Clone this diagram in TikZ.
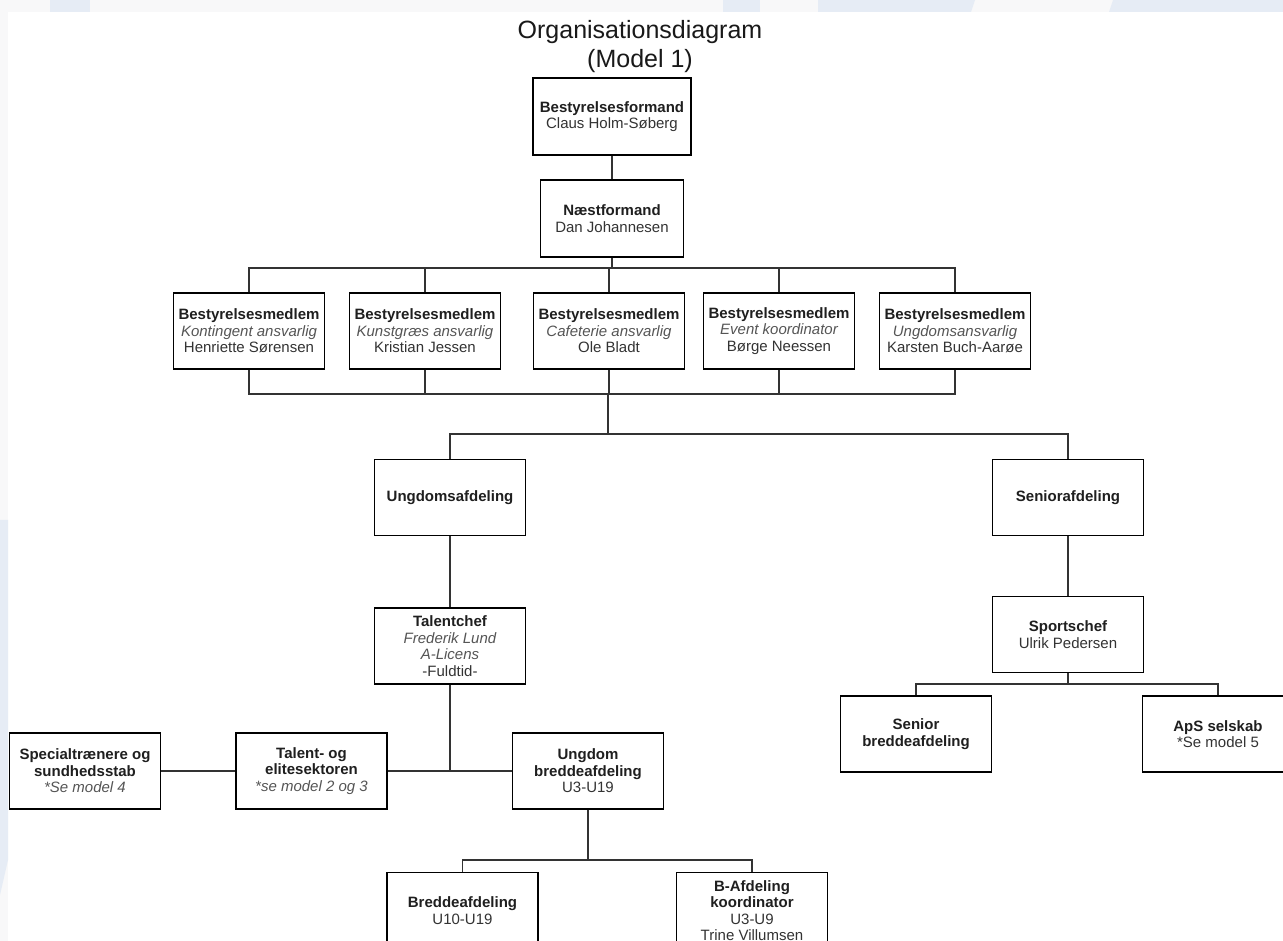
\documentclass[tikz,border=0pt]{standalone}
\usepackage{fontspec}
\setmainfont{Liberation Sans}
\definecolor{wmblue}{HTML}{E6ECF5}
\definecolor{wmgrey}{HTML}{F8F8F9}
\definecolor{linegrey}{HTML}{333333}
\definecolor{rolegrey}{HTML}{1F1F1F}
\definecolor{notegrey}{HTML}{555555}
\newcommand{\role}[1]{{\color{rolegrey}\bfseries #1}}
\newcommand{\note}[1]{{\color{notegrey}\itshape #1}}

\begin{document}
\begin{tikzpicture}[x=0.75pt, y=-0.75pt]
    \tikzstyle{orgbox} = [rectangle, draw=black, line width=1pt, fill=white, align=center, inner sep=0pt, minimum width=113.25pt, minimum height=57pt, font=\fontsize{11.25}{12.4}\selectfont, text=linegrey]
    \tikzstyle{link} = [draw=linegrey, line width=1pt]
    \useasboundingbox (0,0) rectangle (1283,941);
    \clip (0,0) rectangle (1283,941);
    % watermark in the background
    \fill[white] (0,0) rectangle (1283,941);
    \fill[wmgrey] (0,0) rectangle (1283,12);
    \fill[wmgrey] (0,12) rectangle (8,941);
    \fill[wmblue] (50,0) rectangle (90,12);
    \fill[wmblue] (723,0) rectangle (760,12);
    \fill[wmblue] (818,0) -- (975,0) -- (971,12) -- (818,12) -- cycle;
    \fill[wmblue] (1113,0) -- (1283,0) -- (1283,12) -- (1109,12) -- cycle;
    \fill[wmblue] (0,520) -- (8,520) -- (8,860) -- (0,895) -- cycle;
    % title
    \node[font=\fontsize{18.75}{21.75}\selectfont, align=center, text=black!90] (title) at (640,47) {Organisationsdiagram\\(Model 1)};
    % board
    \node[orgbox, minimum width=118.5pt, minimum height=57.75pt] (formand) at (612,116.5) {\role{Bestyrelsesformand}\\Claus Holm-Søberg};
    \node[orgbox, minimum width=107.25pt, minimum height=57.75pt] (naest) at (612,218.5) {\role{Næstformand}\\Dan Johannesen};
    \node[orgbox] (kontingent) at (249,331) {\role{Bestyrelsesmedlem}\\\note{Kontingent ansvarlig}\\Henriette Sørensen};
    \node[orgbox] (kunstgraes) at (425,331) {\role{Bestyrelsesmedlem}\\\note{Kunstgræs ansvarlig}\\Kristian Jessen};
    \node[orgbox] (cafeteria) at (609,331) {\role{Bestyrelsesmedlem}\\\note{Cafeterie ansvarlig}\\Ole Bladt};
    \node[orgbox] (event) at (779,331) {\role{Bestyrelsesmedlem}\\\note{Event koordinator}\\Børge Neessen};
    \node[orgbox] (ungdomsansv) at (955,331) {\role{Bestyrelsesmedlem}\\\note{Ungdomsansvarlig}\\Karsten Buch-Aarøe};
    % departments
    \node[orgbox] (ungdomsafd) at (450,497.5) {\role{Ungdomsafdeling}};
    \node[orgbox] (seniorafd) at (1068,497.5) {\role{Seniorafdeling}};
    \node[orgbox] (talentchef) at (450,646) {\role{Talentchef}\\\note{Frederik Lund}\\\note{A-Licens}\\-Fuldtid-};
    \node[orgbox] (sportschef) at (1068,634.5) {\role{Sportschef}\\Ulrik Pedersen};
    \node[orgbox] (special) at (85,771) {\role{Specialtrænere og}\\\role{sundhedsstab}\\\note{*Se model 4}};
    \node[orgbox] (talent) at (311.5,771) {\role{Talent- og}\\\role{elitesektoren}\\\note{*se model 2 og 3}};
    \node[orgbox] (ubredde) at (588,771) {\role{Ungdom}\\\role{breddeafdeling}\\U3-U19};
    \node[orgbox] (bredde) at (462.5,910.5) {\role{Breddeafdeling}\\U10-U19};
    \node[orgbox] (bafd) at (752,910.5) {\role{B-Afdeling}\\\role{koordinator}\\U3-U9\\Trine Villumsen};
    \node[orgbox] (seniorbredde) at (916,734) {\role{Senior}\\\role{breddeafdeling}};
    \node[orgbox] (aps) at (1218,734) {\role{ApS selskab}\\*Se model 5};
    % junctions
    \coordinate (bus top) at (612,268);
    \coordinate (bus board) at (608,394);
    \coordinate (bus dept) at (608,434);
    \coordinate (talent junction) at (450,771);
    \coordinate (bus bredde) at (588,860);
    \coordinate (bus senior) at (1068,684);
    % connectors
    \draw[link] (formand) -- (naest);
    \draw[link] (naest) -- (bus top);
    \foreach \m in {kontingent,kunstgraes,cafeteria,event,ungdomsansv} {
        \draw[link] (\m.north) |- (bus top);
        \draw[link] (\m.south) |- (bus board);
    }
    \draw[link] (bus board) -- (bus dept);
    \draw[link] (ungdomsafd.north) |- (bus dept);
    \draw[link] (seniorafd.north) |- (bus dept);
    \draw[link] (ungdomsafd) -- (talentchef);
    \draw[link] (talentchef) -- (talent junction);
    \draw[link] (special) -- (talent);
    \draw[link] (talent) -- (ubredde);
    \draw[link] (ubredde) -- (bus bredde);
    \draw[link] (bredde.north) |- (bus bredde);
    \draw[link] (bafd.north) |- (bus bredde);
    \draw[link] (seniorafd) -- (sportschef);
    \draw[link] (sportschef) -- (bus senior);
    \draw[link] (seniorbredde.north) |- (bus senior);
    \draw[link] (aps.north) |- (bus senior);
\end{tikzpicture}
\end{document}
